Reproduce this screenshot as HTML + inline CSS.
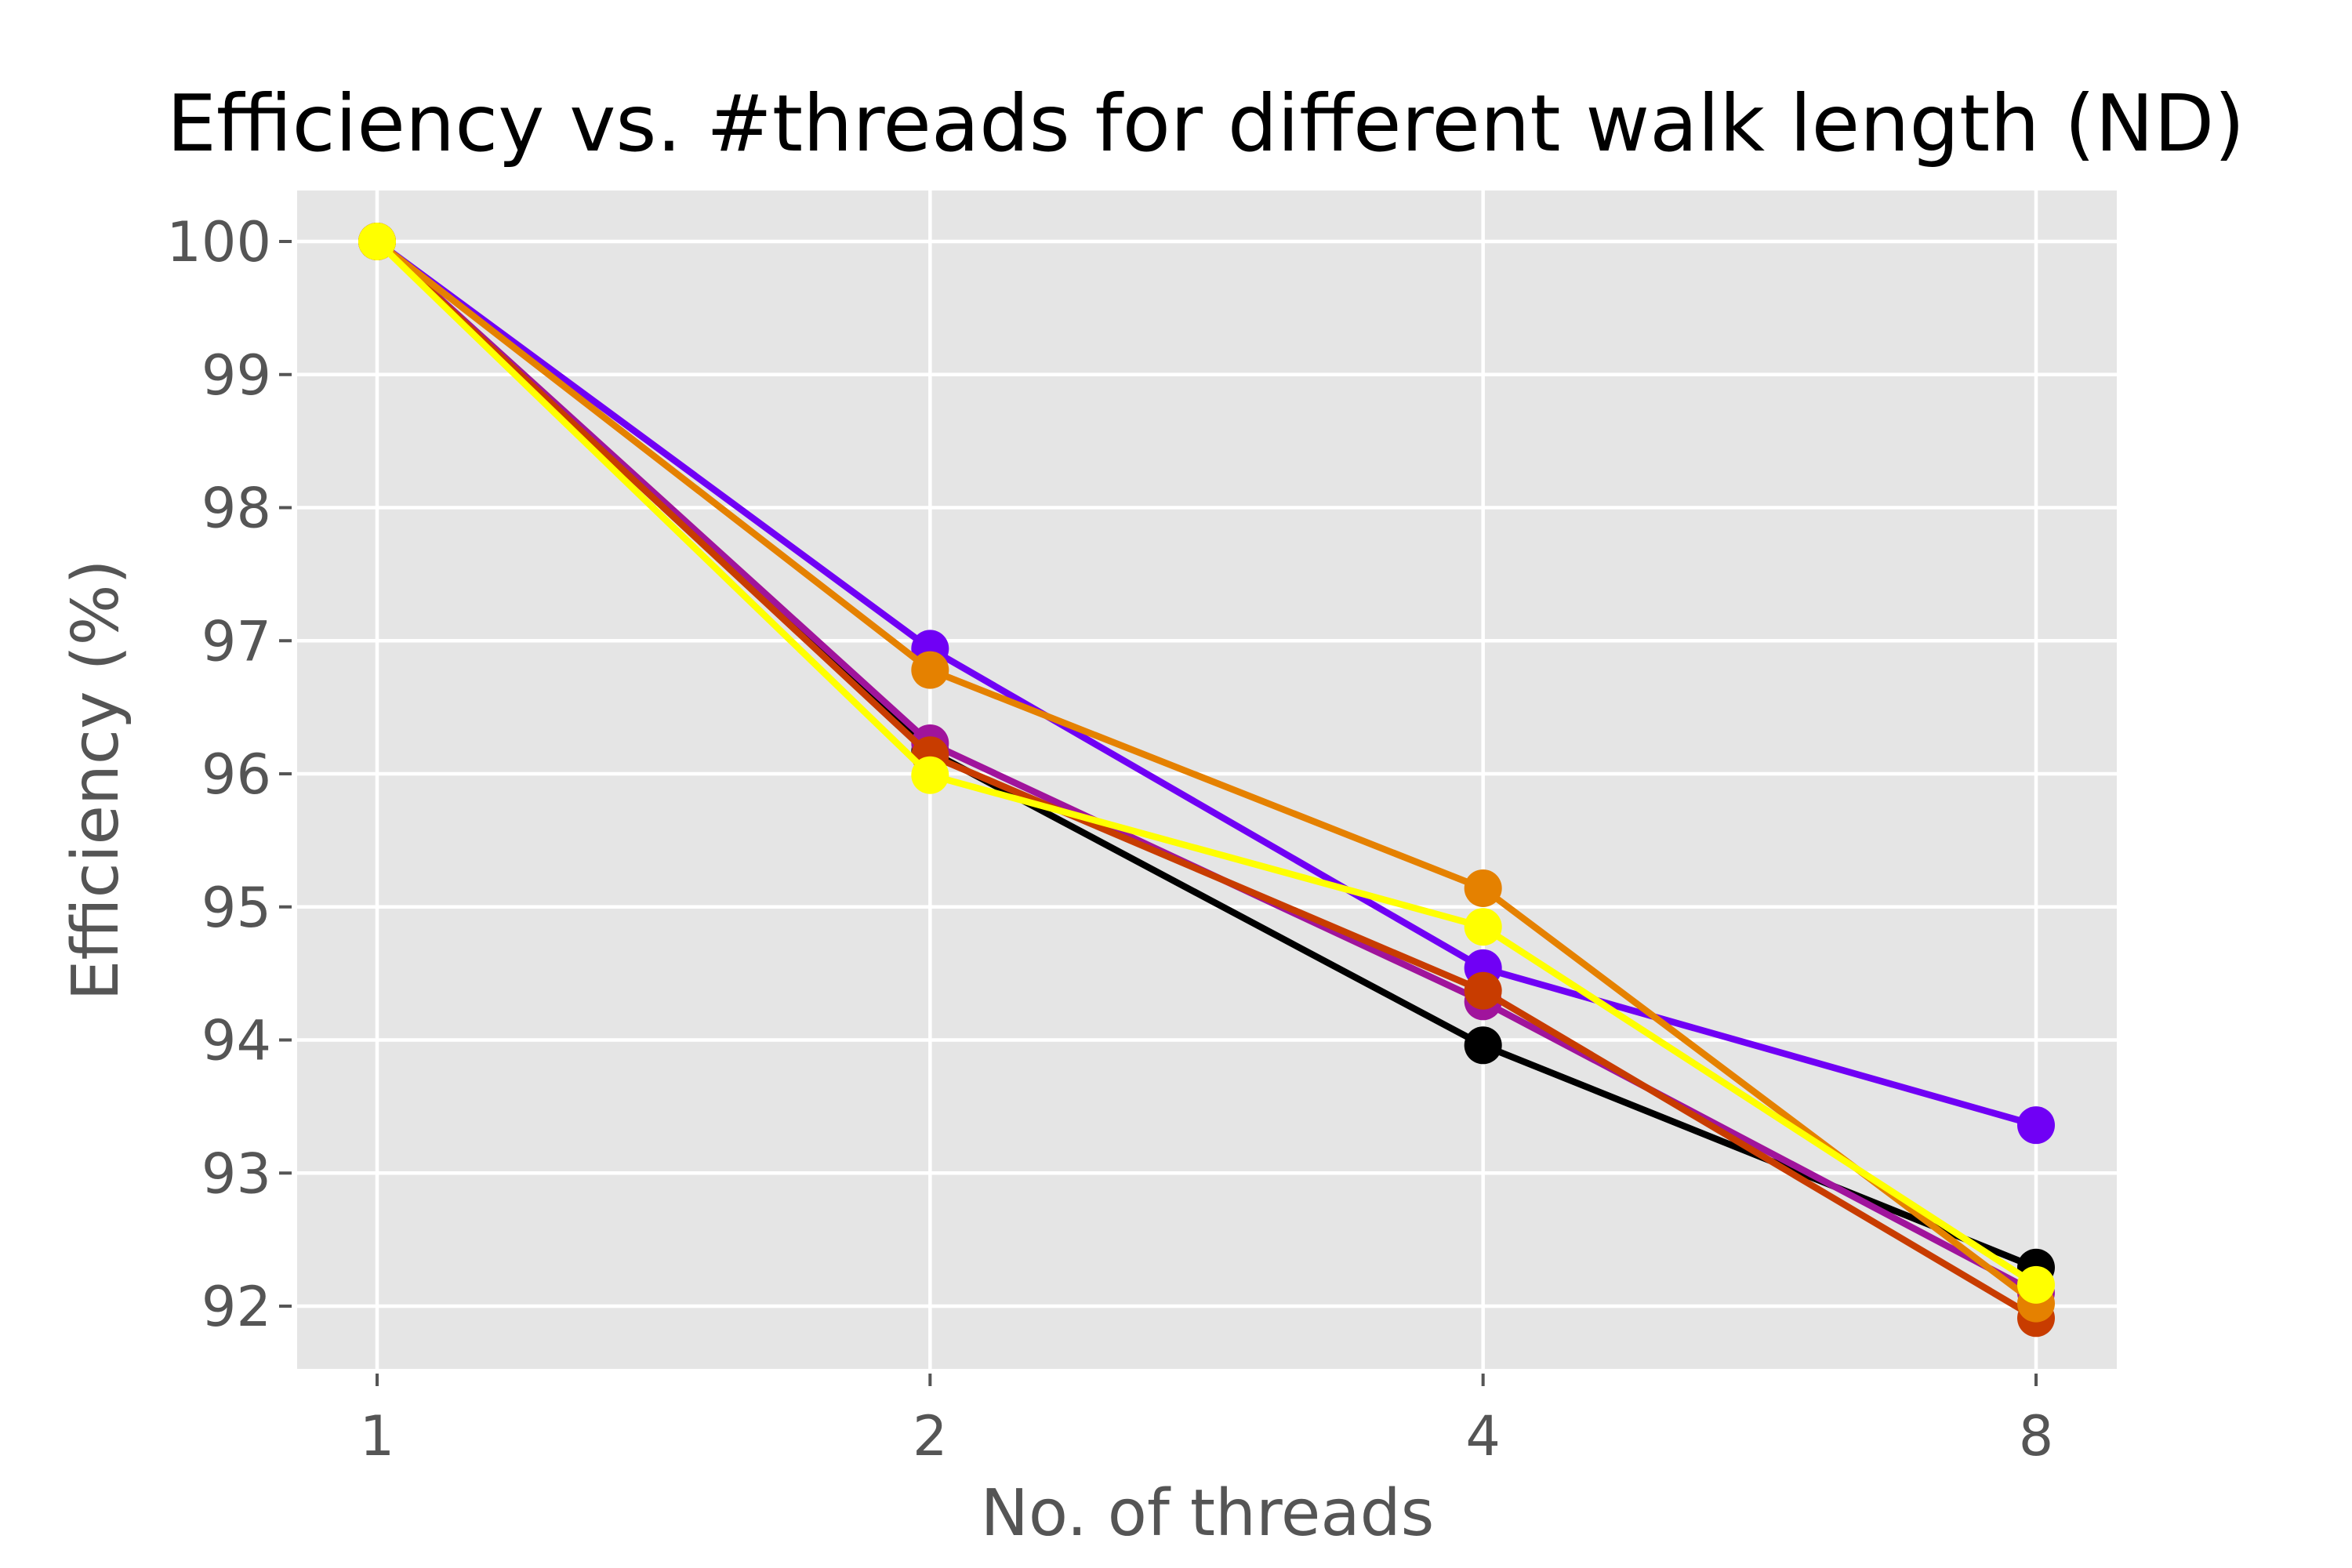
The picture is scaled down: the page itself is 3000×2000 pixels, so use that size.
<!DOCTYPE html>
<html><head><meta charset="utf-8"><style>
body{margin:0;background:#fff;}
svg{display:block;font-family:"DejaVu Sans","Liberation Sans",sans-serif;}
</style></head><body>
<svg id="chart" width="3000" height="2000" viewBox="0 0 3000 2000" xmlns="http://www.w3.org/2000/svg">
<rect x="0" y="0" width="3000" height="2000" fill="#fff"/>
<rect x="379" y="243" width="2321" height="1503" fill="#e5e5e5"/>
<g id="grid"></g>
<g id="axes"></g>
<g id="series"></g>
<text x="1538" y="192" text-anchor="middle" font-size="100" fill="#000">Efficiency vs. #threads for different walk length (ND)</text>
<text x="1540" y="1958" text-anchor="middle" font-size="82" fill="#555">No. of threads</text>
<text transform="translate(150,995) rotate(-90)" text-anchor="middle" font-size="82" fill="#555">Efficiency (%)</text>
</svg>
<script>
const threads = [1, 2, 4, 8];
const xTickLabels = ["1", "2", "4", "8"];
const yTicks = [92, 93, 94, 95, 96, 97, 98, 99, 100];
const seriesBlack = [100, 96.17, 93.96, 92.29];
const seriesPurple = [100, 96.94, 94.54, 93.36];
const seriesMagenta = [100, 96.23, 94.29, 92.10];
const seriesRed = [100, 96.14, 94.37, 91.91];
const seriesOrange = [100, 96.78, 95.14, 92.02];
const seriesYellow = [100, 95.99, 94.85, 92.16];
const seriesNames = ["black", "purple", "magenta", "red", "orange", "yellow"];
const seriesColors = ["#000000", "#7000f5", "#a0149c", "#c83c00", "#e58100", "#ffff00"];
const allSeries = [seriesBlack, seriesPurple, seriesMagenta, seriesRed, seriesOrange, seriesYellow];

const NS = "http://www.w3.org/2000/svg";
function xPos(i){ return 481 + i * (2597 - 481) / 3; }
function yPos(v){ return 308 + (100 - v) * (1666 - 308) / 8; }
function mk(tag, attrs, parent){
  const e = document.createElementNS(NS, tag);
  for (const k in attrs) e.setAttribute(k, attrs[k]);
  parent.appendChild(e);
  return e;
}
const grid = document.getElementById('grid');
const axes = document.getElementById('axes');
const ser = document.getElementById('series');
yTicks.forEach(function(t){
  const y = yPos(t);
  const g = mk('line', {x1:379, x2:2700, y1:y, y2:y, stroke:'#fff', 'stroke-width':4.5}, grid);
  
  
  const tk = mk('line', {x1:356, x2:372, y1:y, y2:y, stroke:'#555', 'stroke-width':4}, axes);
  
  
  const lb = mk('text', {x:346, y:y + 25, 'text-anchor':'end', 'font-size':70, fill:'#555'}, axes);
  lb.textContent = String(t);
  
  
});
threads.forEach(function(t, i){
  const x = xPos(i);
  const g = mk('line', {x1:x, x2:x, y1:243, y2:1746, stroke:'#fff', 'stroke-width':4.5}, grid);
  
  
  const tk = mk('line', {x1:x, x2:x, y1:1752, y2:1768, stroke:'#555', 'stroke-width':4}, axes);
  
  
  const lb = mk('text', {x:x, y:1856, 'text-anchor':'middle', 'font-size':70, fill:'#555'}, axes);
  lb.textContent = xTickLabels[i];
  
  
});
allSeries.forEach(function(vals, s){
  const g = mk('g', {}, ser);
  
  
  const pts = vals.map(function(v, i){ return xPos(i) + ',' + yPos(v); }).join(' ');
  const pl = mk('polyline', {points:pts, fill:'none', stroke:seriesColors[s], 'stroke-width':8.5, 'stroke-linejoin':'round'}, g);
  
  
  vals.forEach(function(v, i){
    const c = mk('circle', {cx:xPos(i), cy:yPos(v), r:24, fill:seriesColors[s]}, g);
    
    
  });
});
</script>
</body></html>
